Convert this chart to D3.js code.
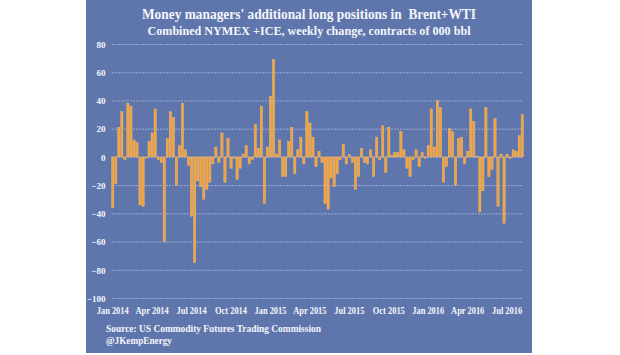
<!DOCTYPE html>
<html>
<head>
<meta charset="utf-8">
<script src="https://cdn.jsdelivr.net/npm/d3@7"></script>
<style>
  html, body { margin: 0; padding: 0; background: #ffffff; }
  svg { display: block; }
  text { font-family: "Liberation Serif", "DejaVu Serif", serif; font-weight: bold; fill: #f4f5fa; }
</style>
</head>
<body>
<svg id="chart" width="620" height="355"></svg>
<script>
// ---- Data (weekly change, thousand-barrel contracts) ----
const title = "Money managers' additional long positions in\u00a0 Brent+WTI";
const subtitle = "Combined NYMEX +ICE, weekly change, contracts of 000 bbl";
const sourceLines = ["Source: US Commodity Futures Trading Commission", "@JKempEnergy"];

const firstWeek = "2014-01-07";
const values = [
  -36, -19, 21, 32, -2, 38, 36, 12, 10, -34, -35, -1, 11, 17, 34, -2, -4, -60, 13, 32,
  28, -20, 8, 38, 5, -6, -42, -75, -17, -21, -30, -23, -18, -5, 7, -4, 17, -18, 13, -8,
  -1, -16, -8, 2, 8, -5, -2, 23, 6, 36, -33, 7, 43, 69, 2, 12, -14, -14, 11, 21,
  -12, 5, 14, -5, 32, 24, 14, -7, 4, -4, -33, -37, -15, -21, -12, -2, 9, -5, 1.5, -4,
  -23, -14, 6, -4, -5, 5, -14, 14, -2, 22, -11, 21, 1, 3, 3, 18, 5, -8, -14, -2,
  5, -7, 3, -1, 8, 34, 7, 40, 35, -18, -7, 20, 18, -20, 13, 14, -5, 4, 34, 25,
  0.5, -39, -24, 35, -14, -9, 27, -35, 2, -47, 2, -1, 5, 4, 15, 30
];
const yTicks = [80, 60, 40, 20, 0, -20, -40, -60, -80, -100];
const tickDates = ["2014-01-07", "2014-04-08", "2014-07-08", "2014-10-07", "2015-01-06", "2015-04-07",
                   "2015-07-07", "2015-10-06", "2016-01-05", "2016-04-05", "2016-07-05"];
const tickLabels = ["Jan 2014", "Apr 2014", "Jul 2014", "Oct 2014", "Jan 2015", "Apr 2015",
                    "Jul 2015", "Oct 2015", "Jan 2016", "Apr 2016", "Jul 2016"];

// weekly report dates (categories)
const parse = d3.utcParse("%Y-%m-%d");
const fmt = d3.utcFormat("%Y-%m-%d");
const weeks = values.map((_, i) => fmt(d3.utcDay.offset(parse(firstWeek), 7 * i)));

// ---- Layout ----
const svg = d3.select("#chart");
const panel = { x0: 86, x1: 532, y0: 0, y1: 353 };
const plot = { left: 111.2, right: 523.8, top: 44, bottom: 298 };

svg.append("rect")
  .attr("x", panel.x0).attr("y", panel.y0)
  .attr("width", panel.x1 - panel.x0).attr("height", panel.y1 - panel.y0)
  .attr("fill", "#5f76ad");

const x = d3.scaleBand().domain(weeks).range([plot.left, plot.right])
  .paddingInner(0.24).paddingOuter(0.12);
const y = d3.scaleLinear().domain([-100, 80]).range([plot.bottom, plot.top]);

// gridlines
const grid = svg.append("g").attr("transform", `translate(${plot.left + 0.8},0)`)
  .call(d3.axisLeft(y).tickValues(yTicks).tickSize(-(plot.right - plot.left - 1.5)).tickFormat(""));
grid.select(".domain").remove();
grid.selectAll("line").attr("stroke", "#aab6da").attr("stroke-width", 1)
  .attr("stroke-dasharray", "2,1").attr("opacity", 0.8);

// y labels
const yAx = svg.append("g").attr("transform", "translate(105.5,0)")
  .call(d3.axisLeft(y).tickValues(yTicks).tickSize(0).tickPadding(0).tickFormat(d3.format("d")));
yAx.select(".domain").remove();
yAx.selectAll("text").attr("font-size", 9).attr("fill", "#f4f5fa")
  .style("font-family", "'Liberation Serif', serif").attr("dy", "0.36em");

// bars
svg.append("g").selectAll("rect").data(values).join("rect")
  .attr("x", (d, i) => x(weeks[i]))
  .attr("width", x.bandwidth())
  .attr("y", d => y(Math.max(0, d)))
  .attr("height", d => Math.abs(y(d) - y(0)))
  .attr("fill", "#f2a33f")
  .attr("stroke", "#f6bd72").attr("stroke-width", 0.4);

// x labels
const xAx = svg.append("g").attr("transform", `translate(0,${plot.bottom + 5})`)
  .call(d3.axisBottom(x).tickValues(tickDates).tickSize(0).tickPadding(4)
    .tickFormat(d => tickLabels[tickDates.indexOf(d)]));
xAx.select(".domain").remove();
xAx.selectAll("text").attr("font-size", 10).attr("fill", "#f4f5fa")
  .style("font-family", "'Liberation Serif', serif")
  .each(function () {
    const w = this.getComputedTextLength();
    d3.select(this).attr("textLength", w * 0.84).attr("lengthAdjust", "spacingAndGlyphs");
  });

// titles
svg.append("text").attr("x", 309).attr("y", 18.5).attr("text-anchor", "middle")
  .attr("font-size", 15).attr("textLength", 334).attr("lengthAdjust", "spacingAndGlyphs")
  .text(title);
svg.append("text").attr("x", 309).attr("y", 34.5).attr("text-anchor", "middle")
  .attr("font-size", 12).attr("textLength", 323).attr("lengthAdjust", "spacingAndGlyphs")
  .text(subtitle);

// source
const srcWidths = [215, 66];
sourceLines.forEach((s, i) => {
  svg.append("text").attr("x", 106).attr("y", 331.5 + i * 12)
    .attr("font-size", 10).attr("textLength", srcWidths[i]).attr("lengthAdjust", "spacingAndGlyphs")
    .text(s);
});
</script>
</body>
</html>
